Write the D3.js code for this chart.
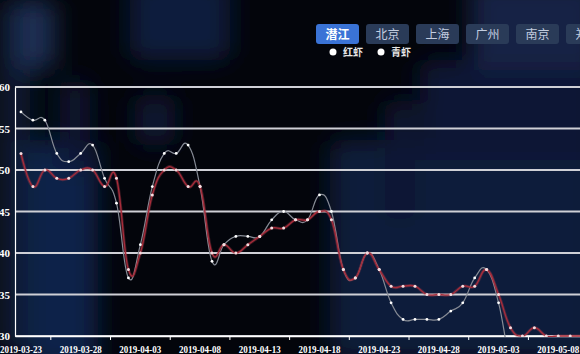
<!DOCTYPE html>
<html>
<head>
<meta charset="utf-8">
<script src="https://cdn.jsdelivr.net/npm/d3@7"></script>
<style>
  body { margin: 0; background: #03050a; overflow: hidden; }
  #app { width: 580px; height: 354px; overflow: hidden; }
</style>
</head>
<body>
<div id="app"></div>
<script>
// categories (one date missing between 03-28 and 04-03, as in the source)
var dates = [
  "2019-03-23", "2019-03-24", "2019-03-25", "2019-03-26", "2019-03-27", "2019-03-28",
  "2019-03-29", "2019-03-30", "2019-04-01", "2019-04-02", "2019-04-03",
  "2019-04-04", "2019-04-05", "2019-04-06", "2019-04-07", "2019-04-08",
  "2019-04-09", "2019-04-10", "2019-04-11", "2019-04-12", "2019-04-13",
  "2019-04-14", "2019-04-15", "2019-04-16", "2019-04-17", "2019-04-18",
  "2019-04-19", "2019-04-20", "2019-04-21", "2019-04-22", "2019-04-23",
  "2019-04-24", "2019-04-25", "2019-04-26", "2019-04-27", "2019-04-28",
  "2019-04-29", "2019-04-30", "2019-05-01", "2019-05-02", "2019-05-03",
  "2019-05-04", "2019-05-05", "2019-05-06", "2019-05-07", "2019-05-08",
  "2019-05-09", "2019-05-10"
];

// 红虾 prices
var redShrimp = [52, 48, 50, 49, 49, 50, 50, 48, 49, 38, 40,
  47, 50, 50, 48, 48, 40, 41, 40, 41, 42,
  43, 43, 44, 44, 45, 44, 38, 37, 40, 38,
  36, 36, 36, 35, 35, 35, 36, 36, 38, 35,
  31, 30, 31, 30, 30, 30, 30];

// 青虾 prices (goes under the axis minimum after 05-03)
var greenShrimp = [57, 56, 56, 52, 51, 52, 53, 49, 46, 37, 41,
  48, 52, 52, 53, 48, 39, 41, 42, 42, 42,
  44, 45, 44, 44, 47, 45, 38, 37, 40, 38,
  34, 32, 32, 32, 32, 33, 34, 37, 38, 34,
  27, 26, 26, 26, 26, 26, 26];

var yTicks = [30, 35, 40, 45, 50, 55, 60];
var cities = ["潜江", "北京", "上海", "广州", "南京", "郑州"];
var legendNames = ["红虾", "青虾"];

var width = 600,
  height = 354;

var svg = d3.select("#app")
  .append("svg")
  .attr("width", width)
  .attr("height", height);

var defs = svg.append("defs");

defs.append("filter")
  .attr("id", "blur")
  .attr("x", "-50%").attr("y", "-50%")
  .attr("width", "200%").attr("height", "200%")
  .append("feGaussianBlur")
  .attr("stdDeviation", 12);

defs.append("clipPath")
  .attr("id", "plot")
  .append("rect")
  .attr("x", 15).attr("y", 80)
  .attr("width", width).attr("height", 257);

// dark background with blurry navy shapes
svg.append("rect")
  .attr("width", width).attr("height", height)
  .attr("fill", "#03050b");

var blobs = [
  { x: 0, y: 0, w: 30, h: 354, c: "#0e1b36" },
  { x: 15, y: 0, w: 40, h: 70, c: "#1a2d52" },
  { x: 28, y: 140, w: 70, h: 230, c: "#10214a" },
  { x: 60, y: 80, w: 30, h: 90, c: "#0c1833" },
  { x: 130, y: -20, w: 100, h: 80, c: "#0f1d3d" },
  { x: 135, y: 95, w: 40, h: 50, c: "#0b1530" },
  { x: 330, y: 140, w: 270, h: 220, c: "#0d1b3a" },
  { x: 420, y: 60, w: 180, h: 100, c: "#0c1935" },
  { x: 470, y: -20, w: 130, h: 90, c: "#122244" },
  { x: 385, y: 100, w: 30, h: 120, c: "#0b1631" }
];

svg.append("g")
  .attr("filter", "url(#blur)")
  .selectAll("rect")
  .data(blobs)
  .enter().append("rect")
  .attr("x", d => d.x).attr("y", d => d.y)
  .attr("width", d => d.w).attr("height", d => d.h)
  .attr("rx", 12)
  .attr("fill", d => d.c);

// scales
var x = d3.scaleBand()
  .domain(dates)
  .range([15, 15 + dates.length * 11.94])
  .padding(0);

var y = d3.scaleLinear()
  .domain([30, 60])
  .range([336, 87]);

var cx = d => x(d) + x.bandwidth() / 2;

// horizontal grid lines
svg.append("g")
  .selectAll("line")
  .data(yTicks)
  .enter().append("line")
  .attr("x1", 15).attr("x2", width)
  .attr("y1", d => y(d)).attr("y2", d => y(d))
  .attr("stroke", "#cfd0d6")
  .attr("stroke-width", 1.8);

// y axis
var yAxis = svg.append("g")
  .attr("transform", "translate(15,0)")
  .call(d3.axisLeft(y).tickValues(yTicks).tickSize(0).tickPadding(5));
yAxis.select(".domain").attr("stroke", "#ffffff").attr("stroke-width", 1.2);
yAxis.selectAll("text")
  .attr("fill", "#ffffff")
  .style("font-family", "'Liberation Serif', serif")
  .style("font-size", "11px")
  .style("font-weight", "bold");

// x axis: label every 5th date, ticks sit between categories
var xAxis = svg.append("g")
  .attr("transform", "translate(0,336)")
  .call(d3.axisBottom(x)
    .tickValues(dates.filter((d, i) => i % 5 === 0))
    .tickSize(0)
    .tickPadding(9));
xAxis.select(".domain").attr("stroke", "#ffffff").attr("stroke-width", 1.5);
xAxis.selectAll("text")
  .attr("fill", "#ffffff")
  .attr("textLength", 42)
  .attr("lengthAdjust", "spacingAndGlyphs")
  .style("font-family", "'Liberation Serif', serif")
  .style("font-size", "11px")
  .style("font-weight", "bold");

svg.append("g")
  .selectAll("line")
  .data(dates.filter((d, i) => i % 5 === 3))
  .enter().append("line")
  .attr("x1", d => x(d)).attr("x2", d => x(d))
  .attr("y1", 336).attr("y2", 340)
  .attr("stroke", "#ffffff");

// smooth lines
var line = d3.line()
  .x((d, i) => cx(dates[i]))
  .y(d => y(d))
  .curve(d3.curveCardinal.tension(-0.3));

var plot = svg.append("g").attr("clip-path", "url(#plot)");

plot.append("path")
  .datum(greenShrimp)
  .attr("fill", "none")
  .attr("stroke", "#868b95")
  .attr("stroke-width", 1.2)
  .attr("d", line);

// faint pink halo under the red line
plot.append("path")
  .datum(redShrimp)
  .attr("fill", "none")
  .attr("stroke", "#b0404d")
  .attr("stroke-opacity", 0.35)
  .attr("stroke-width", 3)
  .attr("d", line);

plot.append("path")
  .datum(redShrimp)
  .attr("fill", "none")
  .attr("stroke", "#a82c3a")
  .attr("stroke-width", 1.3)
  .attr("d", line);

plot.append("g")
  .selectAll("circle")
  .data(greenShrimp)
  .enter().append("circle")
  .attr("cx", (d, i) => cx(dates[i]))
  .attr("cy", d => y(d))
  .attr("r", 1.4)
  .attr("fill", "#ffffff");

plot.append("g")
  .selectAll("circle")
  .data(redShrimp)
  .enter().append("circle")
  .attr("cx", (d, i) => cx(dates[i]))
  .attr("cy", d => y(d))
  .attr("r", 1.5)
  .attr("fill", "#f6dde0");

// city buttons
var buttons = svg.append("g")
  .selectAll("g")
  .data(cities)
  .enter().append("g")
  .attr("transform", (d, i) => "translate(" + (316 + i * 50) + ",24)");

buttons.append("rect")
  .attr("width", 43).attr("height", 20)
  .attr("rx", 3)
  .attr("fill", (d, i) => i === 0 ? "#3a73d6" : "#2a3b58");

buttons.append("text")
  .attr("x", 21.5).attr("y", 14.5)
  .attr("text-anchor", "middle")
  .attr("fill", (d, i) => i === 0 ? "#ffffff" : "#c3cde0")
  .style("font-family", "'Noto Sans CJK SC', sans-serif")
  .style("font-size", "12px")
  .style("font-weight", (d, i) => i === 0 ? "bold" : "normal")
  .text(d => d);

// legend
var legend = svg.append("g")
  .selectAll("g")
  .data(legendNames)
  .enter().append("g")
  .attr("transform", (d, i) => "translate(" + (333 + i * 48) + ",52)");

legend.append("circle")
  .attr("r", 3.5)
  .attr("fill", "#ffffff");

legend.append("text")
  .attr("x", 10).attr("y", 3.5)
  .attr("fill", "#e6e6e6")
  .style("font-family", "'Noto Sans CJK SC', sans-serif")
  .style("font-size", "10px")
  .style("font-weight", "bold")
  .text(d => d);
</script>
</body>
</html>
